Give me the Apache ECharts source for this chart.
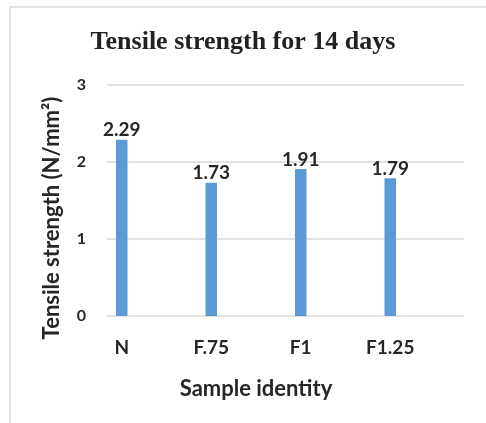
<!DOCTYPE html>
<html>
<head>
<meta charset="utf-8">
<script src="https://cdn.jsdelivr.net/npm/echarts@6/dist/echarts.min.js"></script>
<style>
  html, body { margin: 0; padding: 0; background: #fff; }
  #chart { width: 486px; height: 423px; }
</style>
</head>
<body>
<div id="chart"></div>
<script>
// Tensile strength after 14 days, per sample mix
const samples = ['N', 'F.75', 'F1', 'F1.25'];
const strength = [2.29, 1.73, 1.91, 1.79];
const yTicks = [0, 1, 2, 3];

const textColor = '#262626';
const labelFont = 'Lato, "Open Sans", sans-serif';

const chart = echarts.init(document.getElementById('chart'));
chart.setOption({
  backgroundColor: '#fff',
  animation: false,
  title: {
    text: 'Tensile strength for 14 days',
    left: 'center',
    top: 24,
    textStyle: {
      fontFamily: '"Liberation Serif", "Times New Roman", serif',
      fontWeight: 'bold',
      fontSize: 26,
      color: '#222'
    }
  },
  graphic: [
    {
      type: 'polyline',
      shape: { points: [[10, 423], [10, 7], [486, 7]] },
      style: { stroke: '#d9d9d9', lineWidth: 1.5, fill: null }
    },
    {
      type: 'text',
      x: 52,
      y: 218,
      rotation: Math.PI / 2,
      style: {
        text: 'Tensile strength (N/mm²)',
        fill: textColor,
        font: 'bold 22px ' + labelFont,
        textAlign: 'center',
        textVerticalAlign: 'middle'
      }
    }
  ],
  grid: [
    // value grid: horizontal gridlines and tick labels
    { left: 107, right: 22, top: 85, bottom: 107 },
    // category grid carrying the bars
    { left: 77, width: 358, top: 85, bottom: 107 }
  ],
  xAxis: [
    { type: 'category', gridIndex: 0, data: samples, show: false },
    {
      type: 'category',
      gridIndex: 1,
      data: samples,
      axisLine: { show: false },
      axisTick: { show: false },
      axisLabel: {
        margin: 22,
        fontFamily: labelFont,
        fontWeight: 'bold',
        fontSize: 19,
        color: textColor
      },
      name: 'Sample identity',
      nameLocation: 'middle',
      nameGap: 62,
      nameTextStyle: {
        fontFamily: labelFont,
        fontWeight: 'bold',
        fontSize: 22,
        color: textColor
      }
    }
  ],
  yAxis: [
    {
      type: 'value',
      gridIndex: 0,
      min: yTicks[0],
      max: yTicks[yTicks.length - 1],
      interval: 1,
      axisLine: { show: false },
      axisTick: { show: false },
      axisLabel: {
        margin: 21,
        fontFamily: labelFont,
        fontWeight: 'bold',
        fontSize: 16,
        color: textColor
      },
      splitLine: { lineStyle: { color: '#d9d9d9', width: 1.5 } }
    },
    {
      type: 'value',
      gridIndex: 1,
      min: yTicks[0],
      max: yTicks[yTicks.length - 1],
      interval: 1,
      show: false
    }
  ],
  series: [
    {
      type: 'bar',
      xAxisIndex: 1,
      yAxisIndex: 1,
      data: strength,
      barWidth: 11.5,
      itemStyle: { color: '#5b9bd5' },
      label: {
        show: true,
        position: 'top',
        distance: 0,
        fontFamily: labelFont,
        fontWeight: 'bold',
        fontSize: 19,
        color: textColor
      }
    }
  ]
});
</script>
</body>
</html>
